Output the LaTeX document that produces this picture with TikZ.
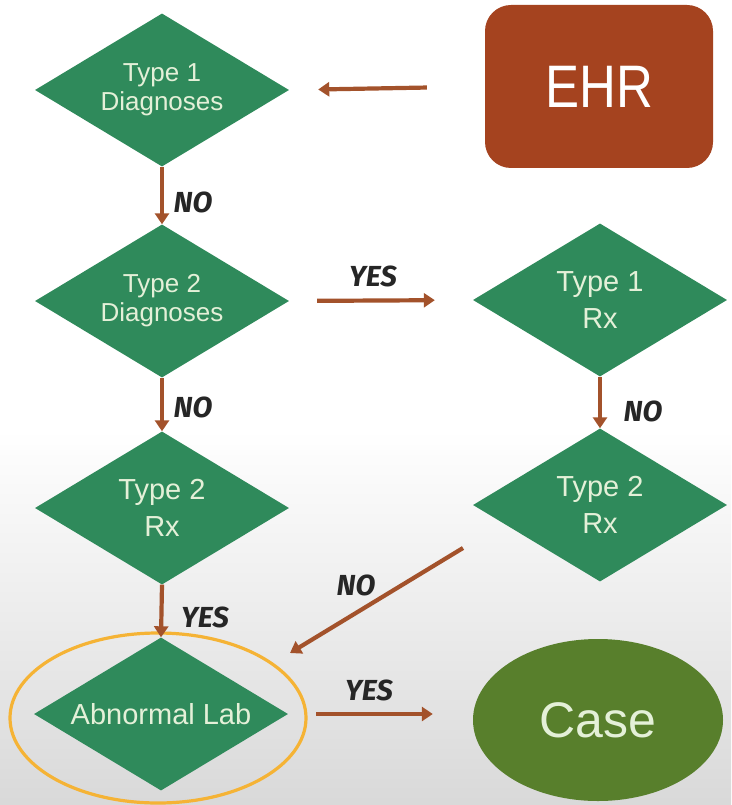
\documentclass[tikz,border=0pt]{standalone}
\usepackage{fontspec}
\setmainfont{Liberation Sans}
\newfontfamily\ehrfont[FakeStretch=0.85]{Liberation Sans}
\newfontfamily\handfont{Fira Sans}
\usetikzlibrary{shapes.geometric,arrows.meta}
\definecolor{dgreen}{HTML}{2F8A5B}
\definecolor{olive}{HTML}{587F2C}
\definecolor{ehrred}{HTML}{A5431F}
\definecolor{arrbrown}{HTML}{A3522B}
\definecolor{ltext}{HTML}{E4F0D8}
\definecolor{ring}{HTML}{F5B335}
\begin{document}
\begin{tikzpicture}[x=1pt,y=-1pt,
  dia/.style={diamond,aspect=1.66,fill=dgreen,minimum width=254pt,minimum height=153pt,inner sep=0pt,
    text=ltext,align=center},
  smalltxt/.style={font=\fontsize{26}{29}\selectfont},
  bigtxt/.style={font=\fontsize{29}{37}\selectfont},
  arr/.style={draw=arrbrown,line width=4.2pt,-{Triangle[width=14pt,length=11pt]}},
  lbl/.style={font=\handfont\bfseries\itshape\fontsize{29}{29}\selectfont,text=black!85,inner sep=0pt}]
\useasboundingbox (0,0) rectangle (731,805);
\fill[white] (0,0) rectangle (731,430);
\shade[top color=white,bottom color=black!15] (0,430) rectangle (731,805);

\node[dia,smalltxt] (d1) at (162,90) {Type 1\\Diagnoses};
\node[dia,smalltxt] (d2) at (162,301) {Type 2\\Diagnoses};
\node[dia,bigtxt] (d3) at (600,300) {Type 1\\Rx};
\node[dia,bigtxt] (d4) at (600,505) {Type 2\\Rx};
\node[dia,bigtxt] (d5) at (162,508) {Type 2\\Rx};
\node[dia,bigtxt] (d6) at (161,714) {Abnormal Lab};
\node[draw=ring,line width=3.2pt,ellipse,minimum width=296pt,minimum height=170pt] (ring) at (158,718) {};
\node[fill=ehrred,rounded corners=26pt,minimum width=228pt,minimum height=163pt,
  text=white,font=\ehrfont\fontsize{60}{60}\selectfont] (ehr) at (599,86.5) {EHR};
\node[ellipse,fill=olive,minimum width=250pt,minimum height=162pt,text=ltext,
  font=\fontsize{50}{50}\selectfont] (case) at (598,720) {Case};

\coordinate (n1) at (463,548);
\coordinate (n2) at (290,653);

\draw[arr,shorten <=58pt,shorten >=29pt] (ehr.west) -- (d1.east);
\draw[arr] (d1.south) -- (d2.north);
\draw[arr,shorten <=28pt,shorten >=38pt] (d2.east) -- (d3.west);
\draw[arr] (d3.south) -- (d4.north);
\draw[arr] (d2.south) -- (d5.north);
\draw[arr] (d5.south) -- (d6.north);
\draw[arr] (n1) -- (n2);
\draw[arr,shorten <=28pt,shorten >=40pt] (d6.east) -- (d6.east -| case.west);

\node[lbl] (l1) at (193,202) {NO};
\node[lbl] (l2) at (373,276) {YES};
\node[lbl] (l3) at (193,407) {NO};
\node[lbl] (l4) at (643,411) {NO};
\node[lbl] (l5) at (205,617) {YES};
\node[lbl] (l6) at (356,585) {NO};
\node[lbl] (l7) at (369,690) {YES};
\end{tikzpicture}
\end{document}
